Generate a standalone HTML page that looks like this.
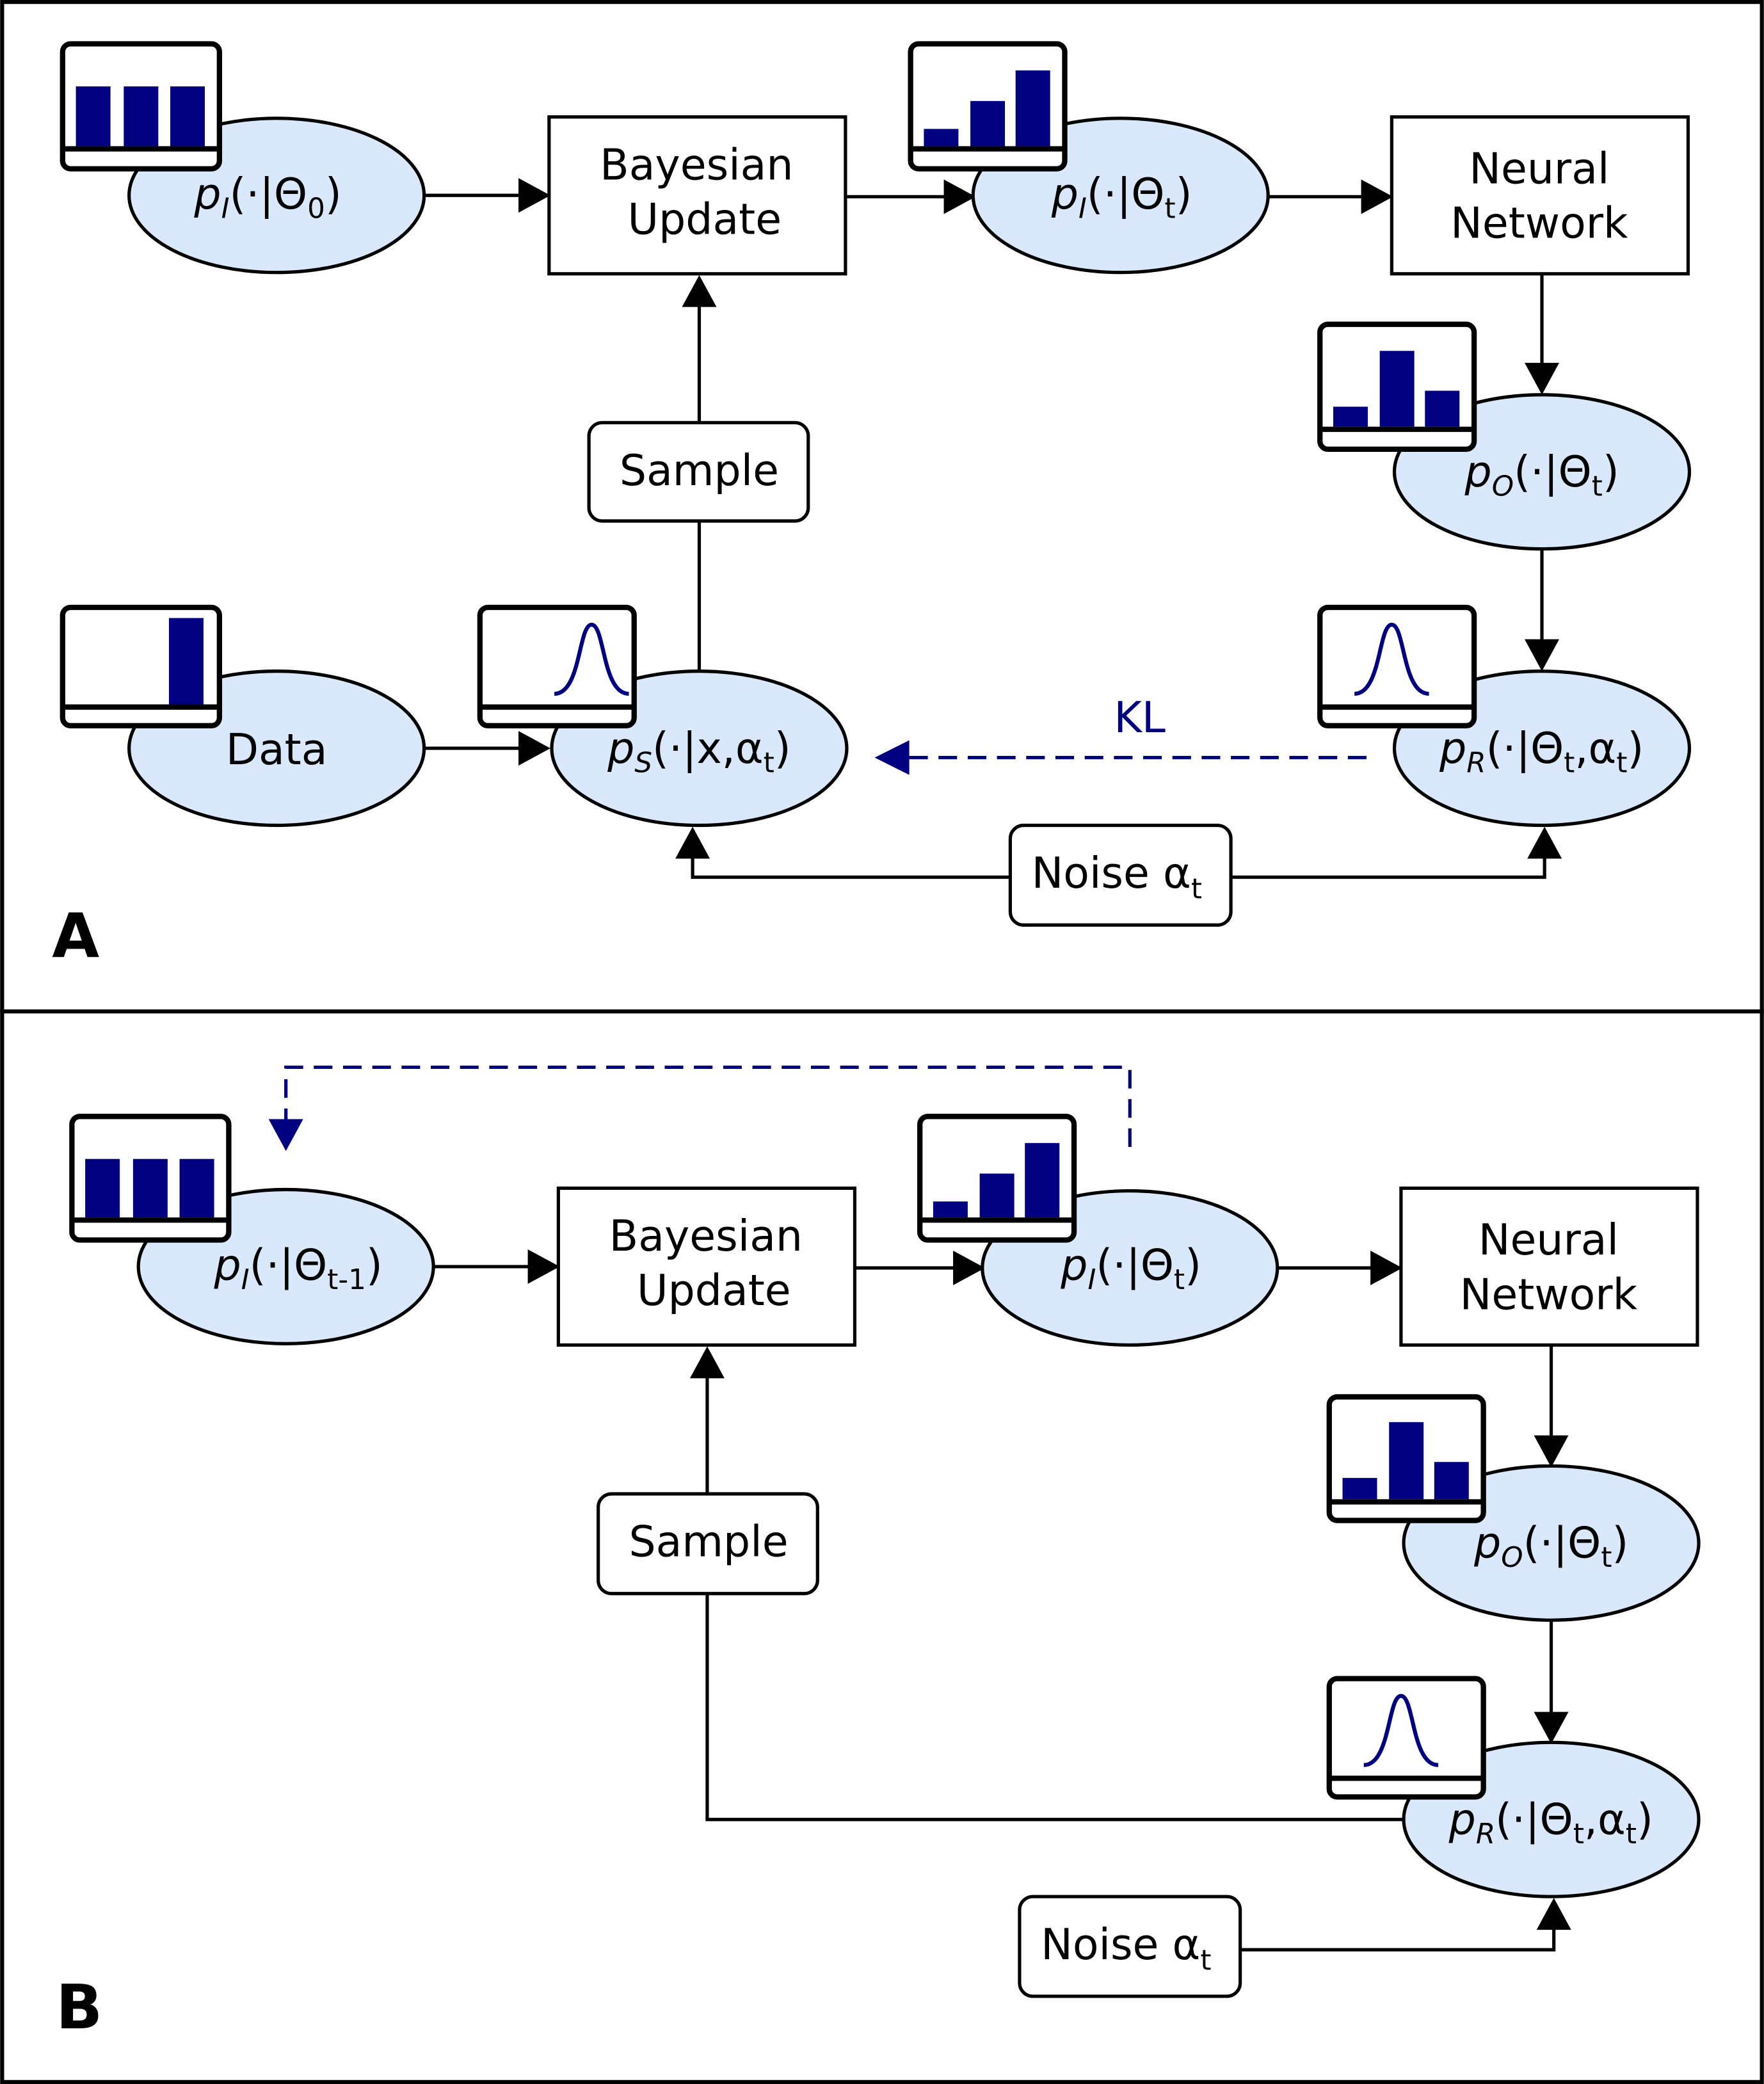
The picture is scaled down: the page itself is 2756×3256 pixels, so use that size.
<!DOCTYPE html>
<html><head><meta charset="utf-8"><style>
html,body{margin:0;padding:0;background:#fff}
svg{display:block}
text{font-family:"DejaVu Sans","Liberation Sans",sans-serif;font-size:32px;fill:#000}
.i{font-style:italic}
.s{font-size:21px}
</style></head><body>
<svg width="2756" height="3256" viewBox="0 0 1327 1568" xmlns="http://www.w3.org/2000/svg">
<rect x="1.5" y="1.5" width="1324" height="1565" fill="#fff" stroke="#000" stroke-width="3"/>
<line x1="0" y1="761" x2="1327" y2="761" stroke="#000" stroke-width="3"/>

<g stroke="#000" stroke-width="2.5" fill="none">
<!-- Panel A lines -->
<line x1="320" y1="147" x2="392" y2="147"/>
<line x1="636" y1="148" x2="712" y2="148"/>
<line x1="955" y1="148" x2="1026" y2="148"/>
<line x1="1160" y1="206" x2="1160" y2="276"/>
<line x1="1160" y1="413" x2="1160" y2="484"/>
<line x1="320" y1="563" x2="392" y2="563"/>
<line x1="526" y1="505" x2="526" y2="392"/>
<line x1="526" y1="318" x2="526" y2="230"/>
<polyline points="760,660 521,660 521,645"/>
<polyline points="926,660 1162,660 1162,645"/>
<!-- Panel B lines -->
<line x1="327" y1="953" x2="399" y2="953"/>
<line x1="643" y1="954" x2="719" y2="954"/>
<line x1="962" y1="954" x2="1033" y2="954"/>
<line x1="1167" y1="1012" x2="1167" y2="1082"/>
<line x1="1167" y1="1220" x2="1167" y2="1290"/>
<line x1="532" y1="1124" x2="532" y2="1036"/>
<polyline points="532,1199 532,1369 1056,1369"/>
<polyline points="933,1467 1169,1467 1169,1451"/>
</g>
<g stroke="#000080" stroke-width="2.5" fill="none" stroke-dasharray="14,8">
<line x1="1028" y1="570" x2="684" y2="570"/>
<polyline points="850,863 850,803 215,803 215,842"/>
</g>
<g fill="#000">
<polygon points="414,147 390,134 390,160"/>
<polygon points="734,148 710,135 710,161"/>
<polygon points="1048,148 1024,135 1024,161"/>
<polygon points="1160,297 1147,273 1173,273"/>
<polygon points="1160,505 1147,481 1173,481"/>
<polygon points="414,563 390,550 390,576"/>
<polygon points="526,207 513,231 539,231"/>
<polygon points="521,622 508,646 534,646"/>
<polygon points="1162,622 1149,646 1175,646"/>
<polygon points="421,953 397,940 397,966"/>
<polygon points="741,954 717,941 717,967"/>
<polygon points="1055,954 1031,941 1031,967"/>
<polygon points="1167,1104 1154,1080 1180,1080"/>
<polygon points="1167,1312 1154,1288 1180,1288"/>
<polygon points="532,1013 519,1037 545,1037"/>
<polygon points="1169,1428 1156,1452 1182,1452"/>
</g>
<g fill="#000080">
<polygon points="658,570 684,557 684,583"/>
<polygon points="215,866 202,842 228,842"/>
</g>

<!-- boxes -->
<g stroke="#000" stroke-width="2.5" fill="#fff">
<rect x="413" y="88" width="223" height="118"/>
<rect x="1047" y="88" width="223" height="118"/>
<rect x="443" y="318" width="165" height="74" rx="10"/>
<rect x="760" y="621" width="166" height="75" rx="10"/>
<rect x="420" y="894" width="223" height="118"/>
<rect x="1054" y="894" width="223" height="118"/>
<rect x="450" y="1124" width="165" height="75" rx="10"/>
<rect x="767" y="1427" width="166" height="75" rx="10"/>
</g>
<!-- ellipses -->
<g stroke="#000" stroke-width="2.5" fill="#dae8fc">
<ellipse cx="208" cy="147" rx="111" ry="58"/>
<ellipse cx="843" cy="147" rx="111" ry="58"/>
<ellipse cx="1160" cy="355" rx="111" ry="58"/>
<ellipse cx="1160" cy="563" rx="111" ry="58"/>
<ellipse cx="526" cy="563" rx="111" ry="58"/>
<ellipse cx="208" cy="563" rx="111" ry="58"/>
<ellipse cx="215" cy="953" rx="111" ry="58"/>
<ellipse cx="850" cy="954" rx="111" ry="58"/>
<ellipse cx="1167" cy="1161" rx="111" ry="58"/>
<ellipse cx="1167" cy="1369" rx="111" ry="58"/>
</g>

<!-- icons -->
<g stroke="#000" stroke-width="4" fill="#fff">
<rect x="47" y="33" width="118" height="94" rx="6"/>
<rect x="685" y="33" width="116" height="94" rx="6"/>
<rect x="993" y="244" width="116" height="94" rx="6"/>
<rect x="993" y="457" width="116" height="89" rx="6"/>
<rect x="361" y="457" width="116" height="89" rx="6"/>
<rect x="47" y="457" width="118" height="89" rx="6"/>
<rect x="54" y="840" width="118" height="93" rx="6"/>
<rect x="692" y="840" width="116" height="93" rx="6"/>
<rect x="1000" y="1051" width="116" height="93" rx="6"/>
<rect x="1000" y="1263" width="116" height="89" rx="6"/>
</g>
<g stroke="#000" stroke-width="4">
<line x1="47" y1="112" x2="165" y2="112"/>
<line x1="685" y1="112" x2="801" y2="112"/>
<line x1="993" y1="323" x2="1109" y2="323"/>
<line x1="993" y1="532" x2="1109" y2="532"/>
<line x1="361" y1="532" x2="477" y2="532"/>
<line x1="47" y1="532" x2="165" y2="532"/>
<line x1="54" y1="918" x2="172" y2="918"/>
<line x1="692" y1="918" x2="808" y2="918"/>
<line x1="1000" y1="1130" x2="1116" y2="1130"/>
<line x1="1000" y1="1338" x2="1116" y2="1338"/>
</g>
<g fill="#000080">
<rect x="57" y="65" width="26" height="45"/><rect x="93" y="65" width="26" height="45"/><rect x="128" y="65" width="26" height="45"/>
<rect x="695" y="97" width="26" height="13"/><rect x="730" y="76" width="26" height="34"/><rect x="764" y="53" width="26" height="57"/>
<rect x="1003" y="306" width="26" height="15"/><rect x="1038" y="264" width="26" height="57"/><rect x="1072" y="294" width="26" height="27"/>
<rect x="127" y="465" width="26" height="65"/>
<rect x="64" y="872" width="26" height="44"/><rect x="100" y="872" width="26" height="44"/><rect x="135" y="872" width="26" height="44"/>
<rect x="702" y="904" width="26" height="12"/><rect x="737" y="883" width="26" height="33"/><rect x="771" y="860" width="26" height="56"/>
<rect x="1010" y="1112" width="26" height="16"/><rect x="1045" y="1070" width="26" height="58"/><rect x="1079" y="1100" width="26" height="28"/>
</g>
<g stroke="#000080" stroke-width="3" fill="none">
<path d="M417,522 C437,522 435,470 445,470 C455,470 453,522 473,522"/>
<path d="M1019,522 C1039,522 1037,470 1047,470 C1057,470 1055,522 1075,522"/>
<path d="M1026,1328 C1046,1328 1044,1276 1054,1276 C1064,1276 1062,1328 1082,1328"/>
</g>

<!-- text -->
<g text-anchor="middle">
<text x="524" y="135">Bayesian</text><text x="530" y="176">Update</text>
<text x="1158" y="138">Neural</text><text x="1158" y="179">Network</text>
<text x="526" y="365">Sample</text>
<text x="208" y="575">Data</text>
<text x="531" y="941">Bayesian</text><text x="537" y="982">Update</text>
<text x="1165" y="944">Neural</text><text x="1165" y="985">Network</text>
<text x="533" y="1171">Sample</text>
</g>
<text x="776" y="668">Noise α<tspan class="s" dy="8">t</tspan></text>
<text x="783" y="1474">Noise α<tspan class="s" dy="8">t</tspan></text>
<text x="838" y="551" style="fill:#000080">KL</text>

<text x="146" y="157"><tspan class="i">p</tspan><tspan class="s i" dy="7">I</tspan><tspan dy="-7">(·|Θ</tspan><tspan class="s" dy="7">0</tspan><tspan dy="-7">)</tspan></text>
<text x="791" y="157"><tspan class="i">p</tspan><tspan class="s i" dy="7">I</tspan><tspan dy="-7">(·|Θ</tspan><tspan class="s" dy="7">t</tspan><tspan dy="-7">)</tspan></text>
<text x="1102" y="366"><tspan class="i">p</tspan><tspan class="s i" dy="7">O</tspan><tspan dy="-7">(·|Θ</tspan><tspan class="s" dy="7">t</tspan><tspan dy="-7">)</tspan></text>
<text x="1083" y="574"><tspan class="i">p</tspan><tspan class="s i" dy="7">R</tspan><tspan dy="-7">(·|Θ</tspan><tspan class="s" dy="7">t</tspan><tspan dy="-7">,α</tspan><tspan class="s" dy="7">t</tspan><tspan dy="-7">)</tspan></text>
<text x="457" y="574"><tspan class="i">p</tspan><tspan class="s i" dy="7">S</tspan><tspan dy="-7">(·|x,α</tspan><tspan class="s" dy="7">t</tspan><tspan dy="-7">)</tspan></text>
<text x="161" y="963"><tspan class="i">p</tspan><tspan class="s i" dy="7">I</tspan><tspan dy="-7">(·|Θ</tspan><tspan class="s" dy="7">t-1</tspan><tspan dy="-7">)</tspan></text>
<text x="798" y="963"><tspan class="i">p</tspan><tspan class="s i" dy="7">I</tspan><tspan dy="-7">(·|Θ</tspan><tspan class="s" dy="7">t</tspan><tspan dy="-7">)</tspan></text>
<text x="1109" y="1172"><tspan class="i">p</tspan><tspan class="s i" dy="7">O</tspan><tspan dy="-7">(·|Θ</tspan><tspan class="s" dy="7">t</tspan><tspan dy="-7">)</tspan></text>
<text x="1090" y="1380"><tspan class="i">p</tspan><tspan class="s i" dy="7">R</tspan><tspan dy="-7">(·|Θ</tspan><tspan class="s" dy="7">t</tspan><tspan dy="-7">,α</tspan><tspan class="s" dy="7">t</tspan><tspan dy="-7">)</tspan></text>

<text x="39" y="720" style="font-size:46px;font-weight:bold">A</text>
<text x="42" y="1526" style="font-size:46px;font-weight:bold">B</text>
</svg>
</body></html>
